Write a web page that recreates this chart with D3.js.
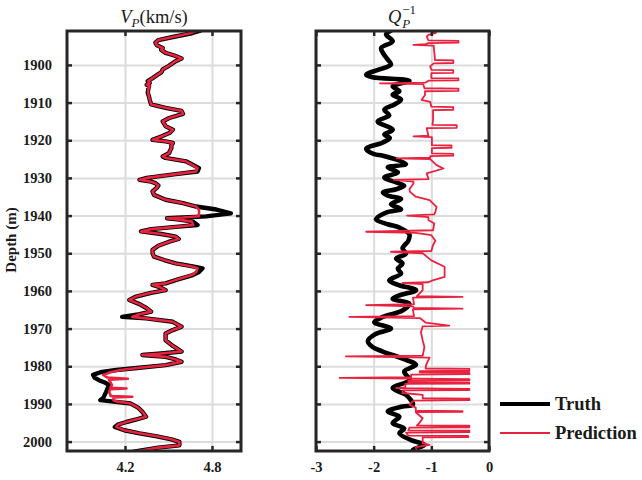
<!DOCTYPE html>
<html>
<head>
<meta charset="utf-8">
<script src="https://cdn.jsdelivr.net/npm/d3@7"></script>
<style>
  body { margin: 0; background: #fff; }
  text { font-family: "Liberation Serif", "Times New Roman", serif; }
</style>
</head>
<body>
<svg id="chart" width="642" height="480"></svg>
<script>
// ---- Well-log data: [depth (m), value] ----
const vpTruth = [
  [1890.9,4.72],[1891.6,4.66],[1892.6,4.53],[1893.4,4.43],[1894.1,4.41],[1894.8,4.42],[1895.5,4.46],[1896.0,4.45],
  [1896.8,4.48],[1897.5,4.54],[1898.3,4.59],[1899.0,4.55],[1900.3,4.50],[1901.2,4.46],[1902.0,4.45],[1902.6,4.425],
  [1903.5,4.39],[1904.3,4.357],[1904.8,4.37],[1905.3,4.35],[1905.6,4.366],[1906.5,4.36],[1907.4,4.357],[1908.3,4.365],
  [1909.2,4.37],[1910.5,4.38],[1911.4,4.48],[1912.2,4.59],[1913.0,4.60],[1914.1,4.505],[1915.0,4.46],[1915.6,4.47],
  [1916.3,4.48],[1917.2,4.53],[1918.1,4.505],[1919.0,4.45],[1919.9,4.39],[1920.3,4.48],[1920.7,4.53],[1921.4,4.52],
  [1922.1,4.52],[1922.8,4.51],[1923.4,4.505],[1924.3,4.46],[1924.7,4.48],[1925.6,4.62],[1926.5,4.667],[1927.4,4.71],
  [1928.3,4.70],[1929.0,4.55],[1930.0,4.35],[1930.5,4.30],[1931.0,4.38],[1931.4,4.41],[1932.0,4.43],[1932.6,4.42],
  [1933.6,4.39],[1934.5,4.40],[1935.8,4.48],[1936.7,4.60],[1937.6,4.69],[1938.4,4.83],[1939.4,4.93],[1940.2,4.76],
  [1940.5,4.60],[1940.7,4.49],[1941.0,4.56],[1941.6,4.667],[1942.5,4.70],[1943.0,4.55],[1943.6,4.38],[1944.2,4.31],
  [1944.9,4.45],[1945.6,4.55],[1946.2,4.57],[1947.0,4.50],[1948.0,4.43],[1949.1,4.39],[1950.0,4.39],[1950.9,4.40],
  [1951.8,4.47],[1952.7,4.55],[1953.5,4.667],[1954.0,4.735],[1955.0,4.71],[1955.8,4.667],[1957.0,4.56],[1958.0,4.48],
  [1958.4,4.39],[1959.0,4.44],[1959.8,4.48],[1960.5,4.38],[1961.5,4.276],[1962.4,4.23],[1963.5,4.30],[1964.6,4.35],
  [1965.5,4.38],[1966.2,4.30],[1966.9,4.18],[1967.3,4.345],[1968.2,4.53],[1969.5,4.59],[1970.4,4.53],[1971.3,4.48],
  [1973.1,4.48],[1974.6,4.53],[1976.1,4.59],[1976.6,4.45],[1977.0,4.32],[1977.5,4.48],[1978.2,4.55],[1978.8,4.59],
  [1979.7,4.48],[1980.4,4.30],[1981.0,4.14],[1981.6,4.03],[1982.3,3.98],[1983.0,3.99],[1983.7,4.02],[1984.3,4.06],
  [1985.0,4.09],[1985.9,4.08],[1986.8,4.07],[1987.6,4.06],[1988.4,4.05],[1989.0,4.03],[1989.4,4.12],[1989.9,4.24],
  [1991.0,4.29],[1992.1,4.32],[1993.4,4.345],[1994.1,4.28],[1994.8,4.21],[1995.5,4.15],[1996.1,4.13],[1997.0,4.195],
  [1997.8,4.30],[1998.6,4.42],[1999.4,4.52],[2000.1,4.575],[2001.0,4.575],[2001.6,4.43],[2002.7,4.26]
];

const vpPred = [
  [1890.9,4.70],[1891.6,4.65],[1892.6,4.53],[1893.4,4.43],[1894.1,4.41],[1894.8,4.42],[1895.5,4.46],[1896.0,4.45],
  [1896.8,4.48],[1897.5,4.54],[1898.3,4.59],[1899.0,4.55],[1900.3,4.50],[1901.2,4.46],[1902.0,4.45],[1902.6,4.425],
  [1903.5,4.39],[1904.3,4.36],[1904.8,4.37],[1905.3,4.35],[1905.6,4.37],[1906.5,4.36],[1907.4,4.36],[1908.3,4.365],
  [1909.2,4.37],[1910.5,4.38],[1911.4,4.48],[1912.2,4.59],[1913.0,4.60],[1914.1,4.505],[1915.0,4.46],[1915.6,4.47],
  [1916.3,4.48],[1917.2,4.53],[1918.1,4.505],[1919.0,4.45],[1919.9,4.39],[1920.3,4.48],[1920.7,4.53],[1921.4,4.52],
  [1922.1,4.52],[1922.8,4.51],[1923.4,4.505],[1924.3,4.46],[1924.7,4.48],[1925.6,4.62],[1926.5,4.66],[1927.4,4.70],
  [1928.3,4.69],[1929.0,4.55],[1930.0,4.35],[1930.5,4.30],[1931.0,4.38],[1931.4,4.41],[1932.0,4.43],[1932.6,4.42],
  [1933.6,4.39],[1934.5,4.40],[1935.8,4.48],[1936.7,4.60],[1937.6,4.69],[1938.4,4.71],[1939.4,4.71],[1940.2,4.71],
  [1940.5,4.60],[1940.7,4.49],[1941.0,4.56],[1941.6,4.66],[1942.5,4.67],[1943.0,4.55],[1943.6,4.38],[1944.2,4.31],
  [1944.9,4.45],[1945.6,4.55],[1946.2,4.57],[1947.0,4.50],[1948.0,4.43],[1949.1,4.39],[1950.0,4.39],[1950.9,4.40],
  [1951.8,4.47],[1952.7,4.55],[1953.5,4.66],[1954.0,4.70],[1955.0,4.69],[1955.8,4.66],[1957.0,4.56],[1958.0,4.48],
  [1958.4,4.39],[1959.0,4.44],[1959.8,4.48],[1960.5,4.38],[1961.5,4.276],[1962.4,4.23],[1963.5,4.30],[1964.6,4.35],
  [1965.5,4.38],[1966.2,4.30],[1966.9,4.25],[1967.3,4.345],[1968.2,4.53],[1969.5,4.59],[1970.4,4.53],[1971.3,4.48],
  [1973.1,4.48],[1974.6,4.53],[1976.1,4.59],[1976.6,4.45],[1977.0,4.32],[1977.5,4.48],[1978.2,4.55],[1978.8,4.59],
  [1979.7,4.48],[1980.4,4.30],[1981.0,4.17],[1981.6,4.10],[1982.3,4.05],[1983.0,4.08],[1983.3,4.22],[1983.6,4.09],
  [1984.3,4.10],[1985.0,4.11],[1985.7,4.10],[1985.9,4.21],[1986.1,4.10],[1986.8,4.09],[1987.6,4.10],[1987.9,4.10],
  [1988.1,4.25],[1988.3,4.12],[1989.0,4.12],[1989.4,4.15],[1989.9,4.24],[1991.0,4.29],[1992.1,4.32],[1993.4,4.345],
  [1994.1,4.28],[1994.8,4.21],[1995.5,4.15],[1996.1,4.14],[1997.0,4.195],[1997.8,4.30],[1998.6,4.42],[1999.4,4.52],
  [2000.1,4.575],[2001.0,4.575],[2001.6,4.43],[2002.7,4.26]
];

const qTruth = [
  [1890.9,-1.70],[1891.9,-1.785],[1893.7,-1.67],[1895.5,-1.87],[1896.8,-1.84],[1898.6,-1.755],[1899.9,-1.70],
  [1901.2,-1.90],[1902.6,-2.13],[1903.3,-2.02],[1904.2,-1.38],[1905.7,-1.67],[1907.0,-1.555],[1907.9,-1.67],
  [1909.2,-1.525],[1910.5,-1.64],[1911.9,-1.815],[1913.4,-1.73],[1915.0,-1.93],[1917.2,-1.67],[1918.5,-1.815],
  [1919.4,-1.72],[1920.6,-1.84],[1922.3,-2.13],[1923.7,-1.99],[1924.1,-1.84],[1926.3,-1.44],[1927.2,-1.755],
  [1928.5,-1.58],[1929.9,-1.815],[1931.2,-1.61],[1932.1,-1.47],[1933.0,-1.61],[1933.9,-1.84],[1934.7,-1.755],
  [1935.6,-1.525],[1937.0,-1.70],[1938.3,-1.525],[1939.2,-1.785],[1941.0,-1.96],[1942.3,-1.755],[1943.2,-1.555],
  [1945.0,-1.38],[1946.7,-1.40],[1948.7,-1.50],[1950.1,-1.44],[1951.4,-1.61],[1952.7,-1.50],[1954.1,-1.58],
  [1955.4,-1.525],[1957.2,-1.73],[1958.5,-1.555],[1959.8,-1.265],[1961.2,-1.555],[1962.1,-1.67],[1963.4,-1.38],
  [1965.2,-1.50],[1966.9,-1.84],[1968.3,-1.99],[1970.0,-1.70],[1971.4,-1.96],[1973.3,-2.10],[1974.9,-2.02],
  [1976.1,-1.84],[1978.3,-1.44],[1979.6,-1.265],[1981.4,-1.47],[1983.6,-1.38],[1985.8,-1.67],[1987.6,-1.44],
  [1990.2,-1.32],[1990.7,-1.50],[1992.0,-1.755],[1993.4,-1.555],[1995.1,-1.67],[1996.5,-1.47],[1997.8,-1.555],
  [1999.6,-1.35],[2000.9,-1.12],[2002.2,-1.32],[2002.7,-1.30]
];

const qPred = [
  [1891.0,-1.00],[1891.5,-0.92],[1892.0,-1.05],[1892.5,-1.08],[1893.5,-1.05],[1893.6,-0.53],[1894.1,-0.53],
  [1894.2,-1.05],[1894.5,-1.10],[1894.7,-1.31],[1894.9,-0.96],[1896.5,-0.95],[1898.0,-0.94],[1898.7,-0.94],
  [1898.8,-0.62],[1899.5,-0.62],[1899.6,-0.96],[1900.4,-1.02],[1901.3,-1.00],[1901.4,-0.62],[1902.1,-0.62],
  [1902.2,-1.00],[1903.5,-1.00],[1903.6,-0.53],[1904.1,-0.53],[1904.2,-1.05],[1904.7,-1.10],[1904.9,-1.89],
  [1905.1,-1.14],[1906.2,-1.12],[1906.3,-0.53],[1906.9,-0.53],[1907.0,-1.11],[1908.0,-1.11],[1909.3,-1.17],
  [1909.8,-1.02],[1911.1,-1.00],[1911.2,-0.62],[1911.9,-0.62],[1912.0,-0.97],[1914.6,-0.97],[1915.9,-0.98],
  [1916.0,-0.56],[1916.7,-0.56],[1916.8,-1.08],[1918.8,-1.05],[1919.0,-1.31],[1919.2,-0.99],[1921.3,-0.99],
  [1921.4,-0.65],[1922.0,-0.65],[1922.1,-0.99],[1923.5,-0.99],[1923.6,-0.62],[1924.1,-0.62],[1924.2,-1.02],
  [1924.6,-1.02],[1924.8,-1.60],[1925.0,-1.02],[1926.6,-0.91],[1927.5,-0.79],[1928.8,-1.08],[1930.3,-1.05],
  [1930.5,-1.65],[1931.0,-1.31],[1931.5,-1.31],[1933.0,-1.38],[1933.7,-1.37],[1935.0,-1.27],[1935.9,-1.03],
  [1937.7,-0.91],[1939.0,-0.93],[1939.7,-0.95],[1940.0,-1.42],[1940.4,-1.05],[1941.2,-1.05],[1942.1,-0.95],
  [1943.9,-0.97],[1944.3,-2.13],[1944.6,-1.27],[1945.2,-1.00],[1946.7,-0.93],[1947.8,-0.97],[1949.4,-1.00],
  [1949.6,-1.70],[1950.0,-1.15],[1951.9,-1.00],[1953.6,-0.77],[1956.3,-0.77],[1957.2,-0.98],[1957.7,-1.05],
  [1957.9,-1.50],[1958.2,-1.15],[1959.8,-1.15],[1961.4,-1.25],[1961.6,-0.46],[1961.8,-1.32],[1963.5,-1.30],
  [1963.8,-2.13],[1964.1,-1.32],[1964.5,-1.30],[1964.7,-0.46],[1964.9,-1.32],[1966.7,-1.30],[1966.9,-2.42],
  [1967.2,-1.20],[1968.4,-1.10],[1969.2,-0.69],[1969.4,-1.15],[1971.0,-1.18],[1973.1,-1.15],[1974.9,-1.12],
  [1977.2,-1.15],[1977.4,-2.48],[1977.7,-1.03],[1979.6,-1.09],[1980.6,-1.10],[1980.7,-0.34],[1981.2,-0.34],
  [1981.3,-1.20],[1981.6,-1.20],[1981.7,-0.34],[1982.1,-0.34],[1982.2,-1.35],[1982.9,-1.35],[1983.1,-2.59],
  [1983.3,-1.30],[1983.4,-0.34],[1983.7,-0.34],[1983.8,-1.40],[1984.2,-1.40],[1984.3,-0.34],[1984.6,-0.34],
  [1984.7,-1.45],[1985.6,-1.45],[1985.8,-1.61],[1986.0,-0.34],[1986.3,-0.34],[1986.4,-1.50],[1987.1,-1.50],
  [1987.6,-1.15],[1988.5,-1.15],[1988.6,-0.34],[1989.0,-0.34],[1989.1,-1.30],[1990.2,-1.38],[1991.0,-1.27],
  [1991.8,-1.27],[1991.9,-0.46],[1992.1,-0.46],[1992.2,-1.27],[1993.8,-1.15],[1995.1,-1.21],[1995.7,-1.25],
  [1995.8,-0.34],[1996.2,-0.34],[1996.3,-1.38],[1997.0,-1.40],[1997.1,-0.34],[1997.5,-0.34],[1997.6,-1.44],
  [1998.4,-1.40],[1998.5,-0.36],[1998.8,-0.36],[1998.9,-1.15],[2000.4,-1.15],[2000.9,-1.03],[2001.5,-1.27],
  [2002.9,-1.24]
];

const depthTicks = [1900, 1910, 1920, 1930, 1940, 1950, 1960, 1970, 1980, 1990, 2000];
const vpTicks = [4.2, 4.8];
const qTicks = [-3, -2, -1, 0];
const seriesNames = ["Truth", "Prediction"];

// ---- Layout ----
const svg = d3.select("#chart");
const plotTop = 31, plotBottom = 451;
const panels = [
  { left: 67,  right: 241, domain: [3.8, 5.0], ticks: vpTicks, fmt: d3.format(".1f"),
    truth: vpTruth, pred: vpPred, truthW: 4.4, predW: 2.6,
    truthCurve: d3.curveLinear },
  { left: 316, right: 489, domain: [-3, 0], ticks: qTicks, fmt: d => String(d),
    truth: qTruth, pred: qPred, truthW: 4.6, predW: 1.8,
    truthCurve: d3.curveCatmullRom.alpha(0.5) }
];
const colors = { truth: "#000000", pred: "#e8223f" };
const frameColor = "#262626";
const gridColor = "#dcdcdc";
const fontStack = '"Liberation Serif", "Times New Roman", serif';

const y = d3.scaleLinear().domain([1891, 2002.5]).range([plotTop, plotBottom]);

panels.forEach((p, i) => {
  const x = d3.scaleLinear().domain(p.domain).range([p.left, p.right]);
  const w = p.right - p.left, h = plotBottom - plotTop;
  const g = svg.append("g");

  // grid
  g.append("g").attr("transform", `translate(0,${plotTop})`)
    .call(d3.axisBottom(x).tickValues(p.ticks).tickSize(h).tickFormat(""))
    .call(a => a.select(".domain").remove())
    .selectAll("line").attr("stroke", gridColor).attr("stroke-width", 2);
  g.append("g").attr("transform", `translate(${p.left},0)`)
    .call(d3.axisRight(y).tickValues(depthTicks).tickSize(w).tickFormat(""))
    .call(a => a.select(".domain").remove())
    .selectAll("line").attr("stroke", gridColor).attr("stroke-width", 2);

  // clip region
  const clipId = "clip" + i;
  svg.append("clipPath").attr("id", clipId)
    .append("rect").attr("x", p.left).attr("y", plotTop).attr("width", w).attr("height", h);

  const curves = g.append("g").attr("clip-path", `url(#${clipId})`);
  const truthLine = d3.line().x(d => x(d[1])).y(d => y(d[0])).curve(p.truthCurve);
  const predLine = d3.line().x(d => x(d[1])).y(d => y(d[0]));
  curves.append("path").datum(p.truth).attr("d", truthLine)
    .attr("fill", "none").attr("stroke", colors.truth).attr("stroke-width", p.truthW)
    .attr("stroke-linejoin", "round").attr("stroke-linecap", "round");
  curves.append("path").datum(p.pred).attr("d", i === 0 ? truthLine : predLine)
    .attr("fill", "none").attr("stroke", colors.pred).attr("stroke-width", p.predW)
    .attr("stroke-linejoin", "round").attr("stroke-linecap", "round");

  // ticks (inside, mirrored on all four sides)
  const tickStyle = a => {
    a.select(".domain").remove();
    a.selectAll("line").attr("stroke", frameColor).attr("stroke-width", 2.5);
    a.selectAll("text").attr("fill", "#1a1a1a").attr("font-weight", "bold").attr("font-size", 14.5)
      .style("font-family", fontStack);
  };
  const yLeft = d3.axisLeft(y).tickValues(depthTicks).tickSize(-5).tickPadding(15)
    .tickFormat(i === 0 ? d3.format("d") : "");
  g.append("g").attr("transform", `translate(${p.left},0)`).call(yLeft).call(tickStyle);
  g.append("g").attr("transform", `translate(${p.right},0)`)
    .call(d3.axisRight(y).tickValues(depthTicks).tickSize(-5).tickFormat("")).call(tickStyle);
  g.append("g").attr("transform", `translate(0,${plotTop})`)
    .call(d3.axisTop(x).tickValues(p.ticks).tickSize(-5).tickFormat("")).call(tickStyle);
  g.append("g").attr("transform", `translate(0,${plotBottom})`)
    .call(d3.axisBottom(x).tickValues(p.ticks).tickSize(-5).tickPadding(11).tickFormat(p.fmt)).call(tickStyle);

  // frame
  g.append("rect").attr("x", p.left).attr("y", plotTop).attr("width", w).attr("height", h)
    .attr("fill", "none").attr("stroke", frameColor).attr("stroke-width", 3);
});

// ---- Titles ----
const t1 = svg.append("text").attr("x", 154).attr("y", 23).attr("text-anchor", "middle")
  .attr("font-size", 18.5).attr("fill", "#1a1a1a");
t1.append("tspan").attr("font-style", "italic").text("V");
t1.append("tspan").attr("font-style", "italic").attr("font-size", 13).attr("dy", 4).text("P");
t1.append("tspan").attr("dy", -4).text("(km/s)");

const t2 = svg.append("g");
const qMain = t2.append("text").attr("x", 0).attr("y", 23).attr("font-size", 18.5)
  .attr("font-style", "italic").attr("fill", "#1a1a1a").text("Q");
const qw = qMain.node().getComputedTextLength();
const sup = t2.append("text").attr("x", qw + 1).attr("y", 14).attr("font-size", 13)
  .attr("fill", "#1a1a1a").text("\u22121");
const sub = t2.append("text").attr("x", qw + 1).attr("y", 28).attr("font-size", 13)
  .attr("font-style", "italic").attr("fill", "#1a1a1a").text("P");
const tw = qw + 1 + Math.max(sup.node().getComputedTextLength(), sub.node().getComputedTextLength());
t2.attr("transform", `translate(${402 - tw / 2},0)`);

// ---- Y axis label ----
svg.append("text").attr("transform", "translate(16,240) rotate(-90)")
  .attr("text-anchor", "middle").attr("font-weight", "bold").attr("font-size", 15)
  .attr("fill", "#1a1a1a").text("Depth (m)");

// ---- Legend ----
const legend = svg.append("g");
const rows = [
  { name: seriesNames[0], color: colors.truth, width: 4, y: 404 },
  { name: seriesNames[1], color: colors.pred, width: 2, y: 433 }
];
rows.forEach(r => {
  legend.append("line").attr("x1", 500).attr("x2", 550).attr("y1", r.y).attr("y2", r.y)
    .attr("stroke", r.color).attr("stroke-width", r.width);
  legend.append("text").attr("x", 555).attr("y", r.y).attr("dy", "0.35em")
    .attr("font-weight", "bold").attr("font-size", 18.5).attr("fill", "#1a1a1a").text(r.name);
});
</script>
</body>
</html>
